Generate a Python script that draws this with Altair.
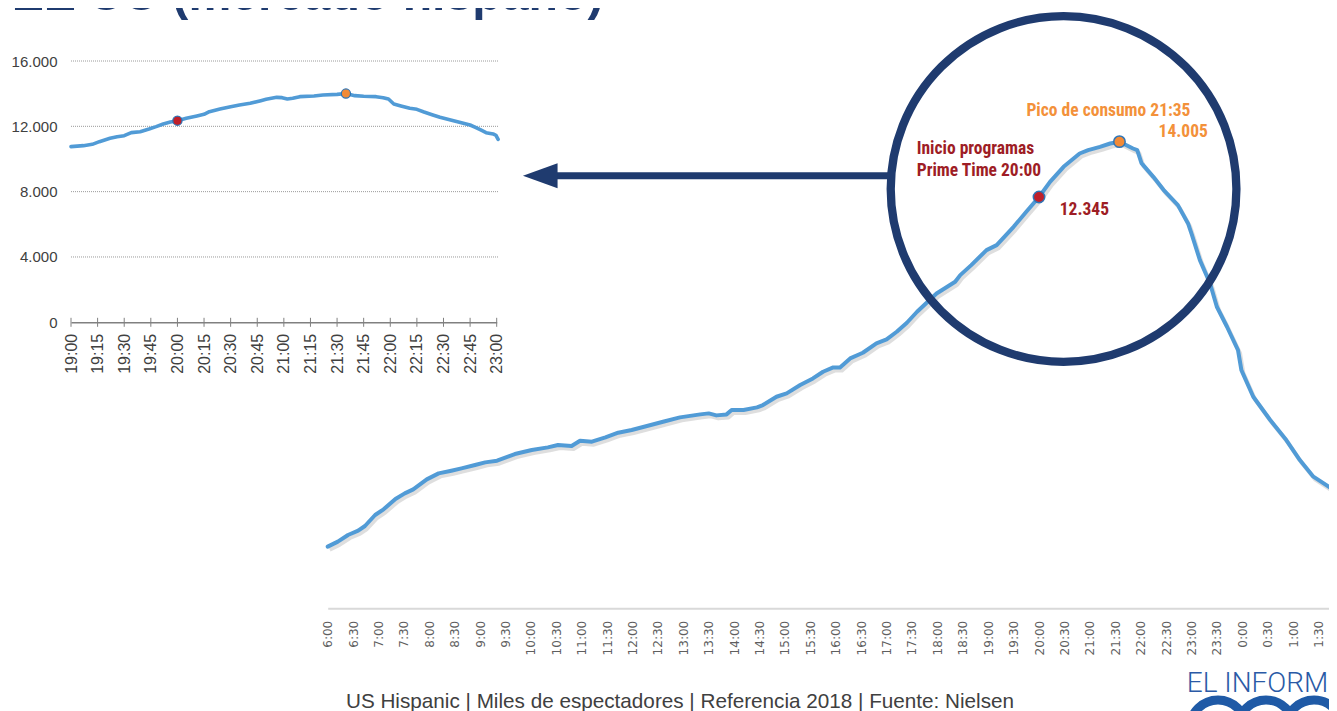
import altair as alt
import pandas as pd

W, H = 1321, 703

# ---------------- data ----------------
title_text = "EE UU (mercado hispano)"
footer_text = "US Hispanic | Miles de espectadores | Referencia 2018 | Fuente: Nielsen"
logo_text = "EL INFORME"

# full day curve (minutes since 0:00; values past midnight continue above 1440)
big_minutes = [360, 372, 384, 396, 404, 416, 426, 440, 451, 461, 477, 491, 506, 518, 534,
               546, 560, 581, 601, 620, 632, 648, 658, 672, 688, 703, 719, 737, 756, 776,
               800, 810, 819, 831, 837, 851, 867, 874, 890, 902, 918, 933, 945, 957, 965,
               977, 992, 1008, 1020, 1032, 1044, 1056, 1079, 1101, 1107, 1120, 1138, 1150, 1170, 1185,
               1200, 1213, 1229, 1248, 1258, 1272, 1284, 1295, 1311, 1316, 1321, 1335, 1347, 1364, 1376,
               1380, 1390, 1402, 1410, 1422, 1435, 1439, 1453, 1473, 1492, 1508, 1524, 1548, 1552]
big_viewers = [1850, 2000, 2200, 2330, 2470, 2800, 2970, 3280, 3450, 3570, 3870, 4050, 4130, 4200, 4300,
               4380, 4430, 4630, 4750, 4830, 4900, 4870, 5030, 5000, 5130, 5270, 5350, 5470, 5600, 5730,
               5820, 5850, 5790, 5820, 5950, 5950, 6030, 6100, 6350, 6450, 6700, 6900, 7100, 7230, 7230,
               7500, 7670, 7950, 8070, 8300, 8570, 8900, 9450, 9800, 10000, 10300, 10750, 10900, 11450, 11900,
               12345, 12800, 13250, 13650, 13750, 13850, 13950, 14005, 13800, 13750, 13360, 12950, 12560, 12100, 11550,
               11250, 10450, 9750, 9050, 8450, 7750, 7150, 6350, 5650, 5050, 4450, 3950, 3550, 3460]

# prime-time zoom (19:00 - 23:00)
inset_minutes = [1140, 1147, 1152, 1156, 1162, 1166, 1170, 1174, 1179, 1184, 1188, 1192, 1196, 1200, 1205,
                 1211, 1215, 1218, 1224, 1230, 1235, 1241, 1247, 1250, 1256, 1259, 1262, 1265, 1269, 1277,
                 1282, 1290, 1295, 1300, 1305, 1312, 1316, 1319, 1322, 1326, 1331, 1335, 1339, 1344, 1348,
                 1354, 1359, 1365, 1368, 1371, 1374, 1378, 1379.6, 1380.8]
inset_viewers = [10755, 10816, 10898, 11061, 11265, 11367, 11428, 11612, 11673, 11837, 11980, 12143, 12265, 12345, 12490,
                 12633, 12735, 12898, 13061, 13204, 13306, 13408, 13571, 13653, 13775, 13755, 13673, 13714, 13816, 13857,
                 13918, 13959, 14005, 13878, 13837, 13816, 13755, 13673, 13367, 13245, 13102, 13041, 12878, 12694, 12551,
                 12388, 12245, 12082, 11939, 11776, 11612, 11531, 11449, 11204]

big_tick_minutes = list(range(360, 1531, 30))
inset_tick_minutes = list(range(1140, 1381, 15))
inset_y_ticks = [0, 4000, 8000, 12000, 16000]

event_minutes = [1200, 1295]
event_viewers = [12345, 14005]
event_fill = ["#C0202A", "#F28A36"]
start_lines = ["Inicio programas", "Prime Time 20:00"]
peak_line = "Pico de consumo 21:35"

# zoom lens and arrow anchors (in the big chart's minute / viewer units)
lens_minute = [1229]
lens_viewers = [12585]
arrow_head_minute = [611]
arrow_shaft_minutes = [625, 1024]
arrow_viewers = [12984]

# ---------------- styles ----------------
BLUE = "#519BD6"
NAVY = "#1F3B6F"
RED_TXT = "#9E1D25"
ORANGE_TXT = "#F3913A"
NARROW = "Roboto Condensed, Roboto, sans-serif"


def big_x(shift=0.0):
    return alt.Scale(domain=[360, 1551.9], range=[319.7 + shift, 1329 + shift], nice=False, zero=False)


def big_y(shift=0.0):
    return alt.Scale(domain=[0, 16000], range=[600.3 + shift, 67.2 + shift], nice=False, zero=True)


IX = alt.Scale(domain=[1140, 1380], range=[63, 488.7], nice=False, zero=False)
IY = alt.Scale(domain=[0, 16000], range=[314.3, 53], nice=False, zero=True)

time_expr = "floor(datum.value / 60) % 24 + ':' + (datum.value % 60 < 10 ? '0' : '') + datum.value % 60"
num_expr = "replace(format(datum.value, ','), ',', '.')"


def fmt(v):
    return f"{v:,}".replace(",", ".")


big_df = pd.DataFrame({"minute": big_minutes, "viewers": big_viewers})
inset_df = pd.DataFrame({"minute": inset_minutes, "viewers": inset_viewers})
ev_df = pd.DataFrame({"minute": event_minutes, "viewers": event_viewers, "fill": event_fill})

# ---------------- inset chart ----------------
grid_df = pd.DataFrame({"viewers": inset_y_ticks[1:], "start": inset_minutes[0], "end": inset_minutes[-1]})
inset_grid = alt.Chart(grid_df).mark_rule(color="#9A9A9A", strokeWidth=1, strokeDash=[1, 1]).encode(
    x=alt.X("start:Q", scale=IX, axis=None),
    x2="end:Q",
    y=alt.Y("viewers:Q", scale=IY, axis=None),
)

inset_line = alt.Chart(inset_df).mark_line(color=BLUE, strokeWidth=3.6, strokeCap="round", strokeJoin="round").encode(
    x=alt.X("minute:Q", scale=IX, axis=alt.Axis(
        orient="bottom", offset=-(H - 314.3), values=inset_tick_minutes, labelExpr=time_expr,
        labelAngle=-90, ticks=False, grid=False, domainColor="#808080", domainWidth=1.5,
        labelFont="Liberation Sans", labelFontSize=16, labelColor="#404040", labelPadding=11,
        labelOverlap=False, labelFlush=False, title=None)),
    y=alt.Y("viewers:Q", scale=IY, axis=alt.Axis(
        orient="left", offset=-63, values=inset_y_ticks, labelExpr=num_expr, ticks=False,
        domain=False, grid=False, labelFont="Liberation Sans", labelFontSize=15,
        labelColor="#404040", labelPadding=14, title=None)),
)

tick_df = pd.DataFrame({"minute": inset_tick_minutes, "base": 0})
inset_ticks = alt.Chart(tick_df).mark_point(shape="M0,-1L0,1", size=81, filled=False, strokeWidth=1,
                                            color="#808080", opacity=1).encode(
    x=alt.X("minute:Q", scale=IX, axis=None),
    y=alt.Y("base:Q", scale=IY, axis=None),
)

inset_dots = alt.Chart(ev_df).mark_point(filled=True, size=85, stroke="#2E75B6", strokeWidth=1.2, opacity=1).encode(
    x=alt.X("minute:Q", scale=IX, axis=None),
    y=alt.Y("viewers:Q", scale=IY, axis=None),
    fill=alt.Fill("fill:N", scale=None),
)

# ---------------- big chart ----------------
big_shadow = alt.Chart(big_df).mark_line(color="#A0A0A0", strokeWidth=4, opacity=0.35, strokeJoin="round").encode(
    x=alt.X("minute:Q", scale=big_x(2), axis=None),
    y=alt.Y("viewers:Q", scale=big_y(3), axis=None),
)

big_line = alt.Chart(big_df).mark_line(color=BLUE, strokeWidth=4, strokeCap="round", strokeJoin="round").encode(
    x=alt.X("minute:Q", scale=big_x(), axis=alt.Axis(
        orient="bottom", offset=-(H - 600.3), values=big_tick_minutes, labelExpr=time_expr,
        labelAngle=-90, ticks=False, grid=False, domainColor="#D9D9D9", domainWidth=2,
        labelFont="DejaVu Sans", labelFontSize=12, labelColor="#5F5F5F", labelPadding=12,
        labelOverlap=False, labelFlush=False, title=None)),
    y=alt.Y("viewers:Q", scale=big_y(), axis=None),
)

lens_df = pd.DataFrame({"minute": lens_minute, "viewers": lens_viewers})
lens = alt.Chart(lens_df).mark_point(shape="circle", size=345.7 ** 2, filled=False, stroke=NAVY,
                                     strokeWidth=8.3, opacity=1).encode(
    x=alt.X("minute:Q", scale=big_x(), axis=None),
    y=alt.Y("viewers:Q", scale=big_y(), axis=None),
)

shaft_df = pd.DataFrame({"start": [arrow_shaft_minutes[0]], "end": [arrow_shaft_minutes[1]],
                         "viewers": arrow_viewers})
arrow_shaft = alt.Chart(shaft_df).mark_rule(color=NAVY, strokeWidth=7).encode(
    x=alt.X("start:Q", scale=big_x(), axis=None),
    x2="end:Q",
    y=alt.Y("viewers:Q", scale=big_y(), axis=None),
)
head_df = pd.DataFrame({"minute": arrow_head_minute, "viewers": arrow_viewers})
arrow_head = alt.Chart(head_df).mark_point(shape="M-1,0L1,-0.72L1,0.72Z", size=1197, filled=True,
                                           color=NAVY, opacity=1).encode(
    x=alt.X("minute:Q", scale=big_x(), axis=None),
    y=alt.Y("viewers:Q", scale=big_y(), axis=None),
)

big_dots = alt.Chart(ev_df).mark_point(filled=True, size=130, stroke="#2E75B6", strokeWidth=1.5, opacity=1).encode(
    x=alt.X("minute:Q", scale=big_x(), axis=None),
    y=alt.Y("viewers:Q", scale=big_y(), axis=None),
    fill=alt.Fill("fill:N", scale=None),
)


def note(i, label, dx, dy, color, align):
    df = pd.DataFrame({"minute": [event_minutes[i]], "viewers": [event_viewers[i]], "label": [label]})
    return alt.Chart(df).mark_text(font=NARROW, fontSize=17.5, fontWeight="bold", color=color,
                                   align=align, baseline="alphabetic", dx=dx, dy=dy).encode(
        x=alt.X("minute:Q", scale=big_x(), axis=None),
        y=alt.Y("viewers:Q", scale=big_y(), axis=None),
        text="label:N",
    )


notes = [
    note(0, start_lines[0], -122.3, -42.7, RED_TXT, "left"),
    note(0, start_lines[1], -122.3, -20.7, RED_TXT, "left"),
    note(0, fmt(event_viewers[0]), 20.7, 17.6, RED_TXT, "left"),
    note(1, peak_line, 71, -25.7, ORANGE_TXT, "right"),
    note(1, fmt(event_viewers[1]), 88.4, -5, ORANGE_TXT, "right"),
]

# ---------------- page texts ----------------
title = alt.Chart(pd.DataFrame({"t": [title_text]})).mark_text(
    font="Liberation Sans", fontSize=48.2, fontWeight="bold", color=NAVY, align="left", baseline="alphabetic"
).encode(x=alt.value(3.7), y=alt.value(2), text="t:N")

footer = alt.Chart(pd.DataFrame({"t": [footer_text]})).mark_text(
    font="Liberation Sans", fontSize=20.7, color="#404040", align="center", baseline="alphabetic"
).encode(x=alt.value(672), y=alt.value(700), text="t:N")

logo = alt.Chart(pd.DataFrame({"t": [logo_text]})).mark_text(
    font="Roboto", fontSize=28, fontWeight=300, color="#2A5AA6", align="left", baseline="alphabetic"
).encode(x=alt.value(1178.7), y=alt.value(683.7), text="t:N")

logo_rings = [
    alt.Chart(pd.DataFrame({"k": [0]})).mark_point(shape="circle", size=3136, filled=False, stroke="#1F5AA6",
                                                   strokeWidth=9, opacity=1).encode(
        x=alt.value(cx), y=alt.value(720))
    for cx in (1210, 1258, 1306, 1354)
]

layers = [inset_grid, inset_line, inset_ticks, inset_dots, big_shadow, big_line, lens,
          arrow_shaft, arrow_head, big_dots] + notes + [title, footer, logo] + logo_rings

chart = alt.layer(*layers).resolve_scale(x="independent", y="independent").properties(
    width=W, height=H, padding=0, autosize=alt.AutoSizeParams(type="none")
).configure_view(strokeWidth=0)

chart.save("out.html", embed_options={"renderer": "svg", "actions": False})
